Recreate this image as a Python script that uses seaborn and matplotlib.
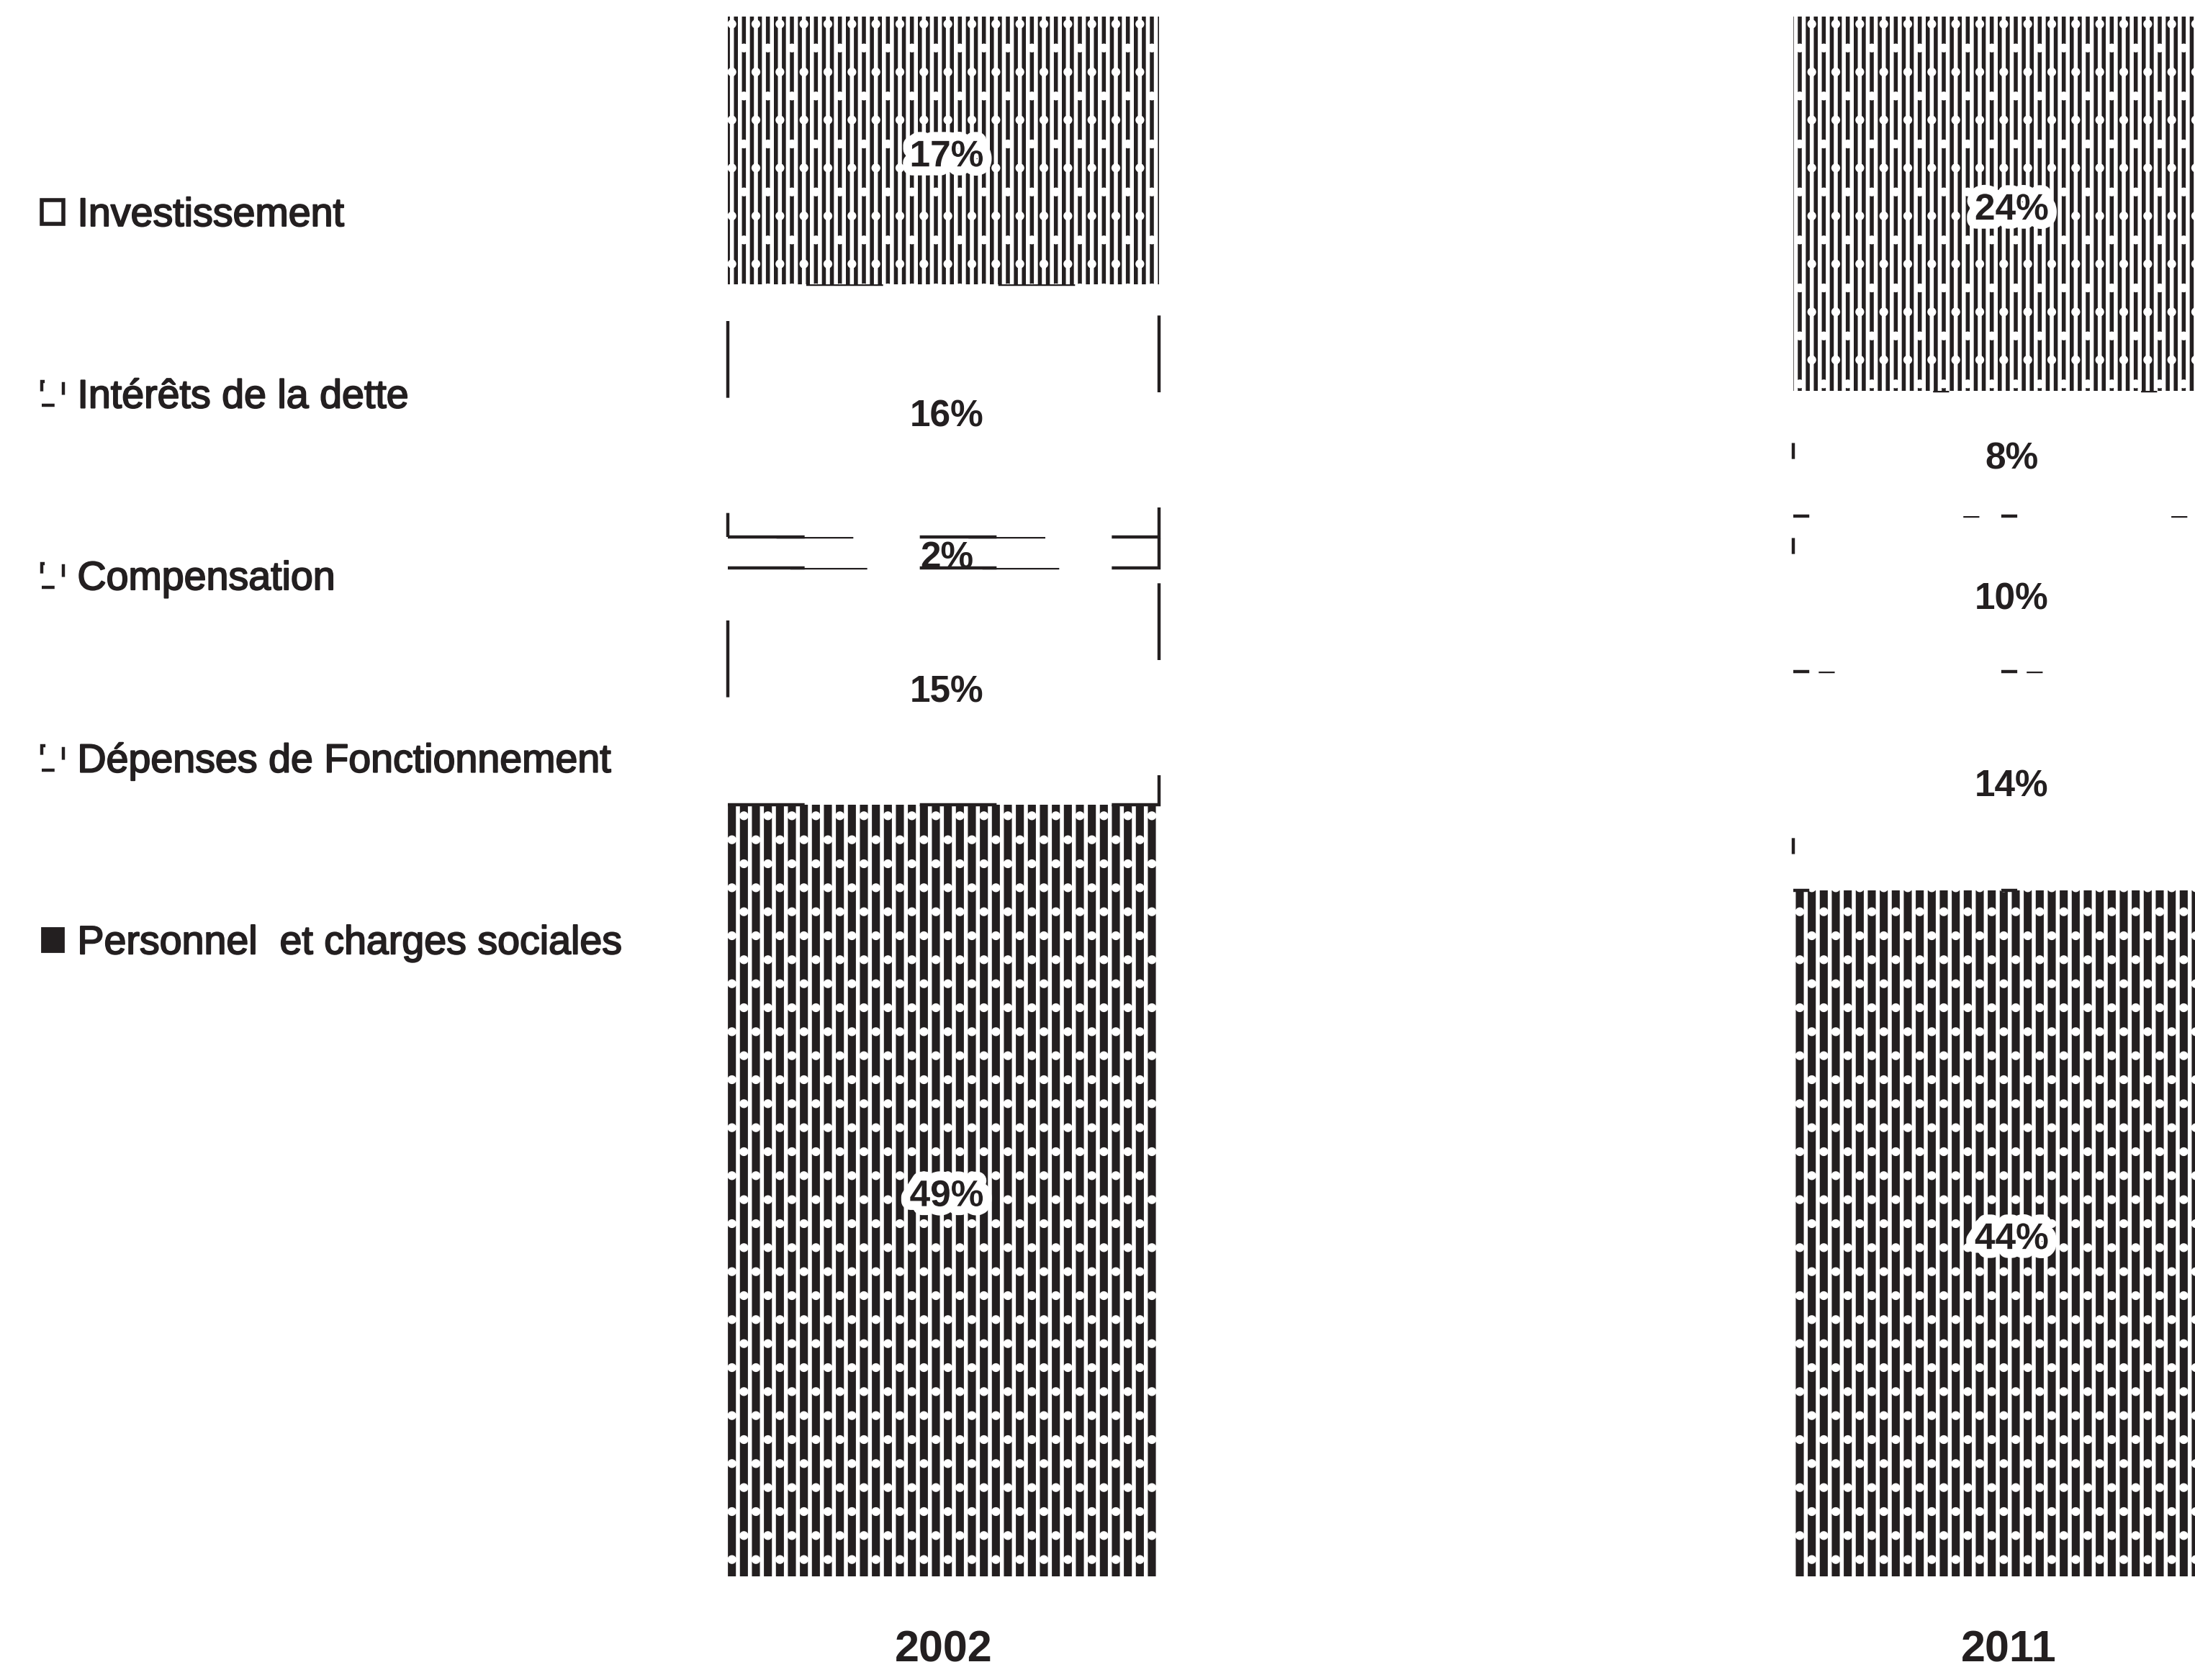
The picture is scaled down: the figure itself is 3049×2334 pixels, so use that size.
import numpy as np
import seaborn as sns
import matplotlib.pyplot as plt
import matplotlib.patheffects as pe

annees = ['2002', '2011']
# du bas vers le haut de la pile
postes = ['Personnel  et charges sociales', 'Dépenses de Fonctionnement',
          'Compensation', 'Intérêts de la dette', 'Investissement']
personnel = [49, 44]
fonctionnement = [15, 14]
compensation = [2, 10]
interets = [16, 8]
investissement = [17, 24]

NOIR = '#231f20'

sns.set_theme(style='white')
plt.rcParams['font.family'] = ['Liberation Sans', 'DejaVu Sans']
plt.rcParams['hatch.linewidth'] = 2.0

fig = plt.figure(figsize=(3049 / 200, 2334 / 200), dpi=200)
ax = fig.add_axes([0, 0.0617, 1, 0.9283])

series = [personnel, fonctionnement, compensation, interets, investissement]
totaux = np.sum(series, axis=0)
# trame de la photocopie : '' = segment blanc
trames = ['||.', '', '', '', '|||.']
bas = np.zeros(2)

for nom, valeurs, trame in zip(postes, series, trames):
    pct = np.array(valeurs) / totaux * 100
    sns.barplot(x=annees, y=pct, bottom=bas, width=0.405, saturation=1,
                color=NOIR if trame else 'white', label=nom, ax=ax)
    cont = ax.containers[-1]
    for i, barre in enumerate(cont):
        if trame:
            barre.set(hatch=trame, edgecolor='white', linewidth=0)
        else:
            # contours presque effaces, plus encore sur 2011
            motif = (0, (24, 36)) if i == 0 else (0, (5, 60))
            barre.set(edgecolor=NOIR, linewidth=1.6, linestyle=motif)
        # bar_label se trompe de centre sur la barre coupee par le bord, donc annotate
        t = ax.annotate(f'{valeurs[i]}%', (i, bas[i] + pct[i] / 2), xytext=(1.5, -3),
                        textcoords='offset points', ha='center', va='center',
                        fontsize=18.5, fontweight='bold', color=NOIR, zorder=5)
        if trame:
            t.set_path_effects([pe.withStroke(linewidth=9, foreground='white')])
    bas = bas + pct

ax.set_xlim(-0.886, 1.175)
ax.set_ylim(0, 100)
ax.set_yticks([])
ax.tick_params(axis='x', length=0, pad=27)
for lab in ax.get_xticklabels():
    lab.set(fontsize=22, fontweight='bold', color=NOIR)
sns.despine(ax=ax, left=True, bottom=True)

h, l = ax.get_legend_handles_labels()
leg = ax.legend(h[::-1], l[::-1], loc='upper left', bbox_to_anchor=(58 / 3049, 1 - 274 / 2334),
                bbox_transform=fig.transFigure, frameon=False, fontsize=20,
                labelspacing=3.61, handlelength=0.54, handleheight=0.54,
                handletextpad=0.35, borderpad=0, borderaxespad=0, labelcolor=NOIR)
for t in leg.get_texts():
    t.set_path_effects([pe.withStroke(linewidth=0.7, foreground=NOIR)])
for p, style in zip(leg.get_patches(), ['boite', 'casse', 'casse', 'casse', 'plein']):
    if style == 'boite':
        p.set(hatch=None, facecolor='white', edgecolor=NOIR, linewidth=2)
    elif style == 'plein':
        p.set(hatch=None, facecolor=NOIR, edgecolor=NOIR, linewidth=1)
    else:
        p.set(facecolor='white', edgecolor=NOIR, linewidth=1.6, linestyle=(0, (4, 6)))

fig.savefig('out.png', dpi=200)
